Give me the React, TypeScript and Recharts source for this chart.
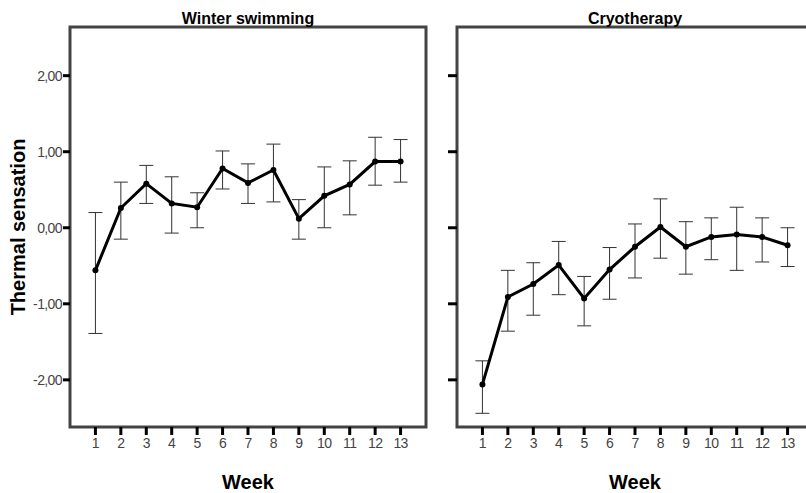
import { LineChart, Line, XAxis, YAxis, ErrorBar, ReferenceArea } from 'recharts';

const WEEKS = [1, 2, 3, 4, 5, 6, 7, 8, 9, 10, 11, 12, 13];
const Y_TICKS = [-2, -1, 0, 1, 2];

// winter swimming: mean and error bar ends
const WINTER_MEAN = [-0.56, 0.26, 0.58, 0.32, 0.27, 0.78, 0.59, 0.76, 0.12, 0.42, 0.57, 0.87, 0.87];
const WINTER_UPPER = [0.2, 0.6, 0.82, 0.67, 0.46, 1.01, 0.84, 1.1, 0.37, 0.8, 0.88, 1.19, 1.16];
const WINTER_LOWER = [-1.39, -0.15, 0.32, -0.07, 0.0, 0.51, 0.32, 0.34, -0.15, 0.0, 0.17, 0.56, 0.6];

// cryotherapy
const CRYO_MEAN = [-2.06, -0.91, -0.74, -0.49, -0.93, -0.55, -0.25, 0.01, -0.25, -0.12, -0.09, -0.12, -0.23];
const CRYO_UPPER = [-1.75, -0.56, -0.46, -0.18, -0.64, -0.26, 0.05, 0.38, 0.08, 0.13, 0.27, 0.13, 0.0];
const CRYO_LOWER = [-2.44, -1.36, -1.15, -0.88, -1.29, -0.94, -0.66, -0.4, -0.61, -0.42, -0.56, -0.45, -0.51];

const Y_DOMAIN: [number, number] = [-2.62, 2.64];
const X_DOMAIN: [number, number] = [0, 14];

const buildRows = (mean: number[], lower: number[], upper: number[]) =>
    WEEKS.map((week, i) => ({
        week,
        mean: mean[i],
        err: [mean[i] - lower[i], upper[i] - mean[i]],
    }));

const winterData = buildRows(WINTER_MEAN, WINTER_LOWER, WINTER_UPPER);
const cryoData = buildRows(CRYO_MEAN, CRYO_LOWER, CRYO_UPPER);

const fmt = (v: number) => v.toFixed(2).replace('.', ',');

const tickFont = { fill: '#444', fontSize: 14, letterSpacing: -0.6, fontFamily: '"Liberation Sans", Arial, sans-serif' };
const boldFont = { fontFamily: '"Liberation Sans", Arial, sans-serif', fontWeight: 700, fill: '#000' };

function Panel({ data, title, showLabels }: { data: any[]; title: string; showLabels: boolean }) {
    const yWidth = showLabels ? 70 : 17;
    return (
        <LineChart
            width={showLabels ? 440 : 380}
            height={493}
            data={data}
            margin={{ top: 27, right: showLabels ? 14 : 7, left: 0, bottom: 0 }}
        >
            <XAxis
                dataKey="week"
                type="number"
                domain={X_DOMAIN}
                ticks={WEEKS}
                allowDataOverflow
                axisLine={false}
                tickSize={8}
                tickMargin={3}
                tickLine={{ stroke: '#000', strokeWidth: 3 }}
                tick={tickFont}
                height={66}
                label={{ value: 'Week', position: 'insideBottom', offset: 4, style: { ...boldFont, fontSize: 20 } }}
            />
            <YAxis
                type="number"
                domain={Y_DOMAIN}
                ticks={Y_TICKS}
                allowDataOverflow
                axisLine={false}
                width={yWidth}
                tickSize={showLabels ? 7 : 9}
                tickMargin={1}
                tickLine={{ stroke: '#000', strokeWidth: 3 }}
                tick={tickFont}
                tickFormatter={showLabels ? fmt : () => ''}
                label={showLabels ? {
                    value: 'Thermal sensation',
                    angle: -90,
                    position: 'insideLeft',
                    offset: 18,
                    style: { ...boldFont, fontSize: 20, textAnchor: 'middle' },
                } : undefined}
            />
            <ReferenceArea
                x1={X_DOMAIN[0]}
                x2={X_DOMAIN[1]}
                y1={Y_DOMAIN[0]}
                y2={Y_DOMAIN[1]}
                fill="none"
                stroke="#444"
                strokeWidth={3}
                ifOverflow="visible"
                label={{ value: title, position: 'top', offset: 3, style: { ...boldFont, fontSize: 16 } }}
            />
            <Line
                dataKey="mean"
                stroke="#000"
                strokeWidth={3}
                dot={{ r: 3, fill: '#000', stroke: '#000', strokeWidth: 0 }}
                activeDot={false}
                isAnimationActive={false}
            >
                <ErrorBar dataKey="err" direction="y" width={7} stroke="#333" strokeWidth={1} />
            </Line>
        </LineChart>
    );
}

export default function App() {
    return (
        <div style={{ position: 'absolute', left: 0, top: 0, width: 806, height: 493, overflow: 'hidden', background: '#fff' }}>
            <div style={{ position: 'absolute', left: 0, top: 0 }}>
                <Panel data={winterData} title="Winter swimming" showLabels />
            </div>
            <div style={{ position: 'absolute', left: 440, top: 0 }}>
                <Panel data={cryoData} title="Cryotherapy" showLabels={false} />
            </div>
        </div>
    );
}
